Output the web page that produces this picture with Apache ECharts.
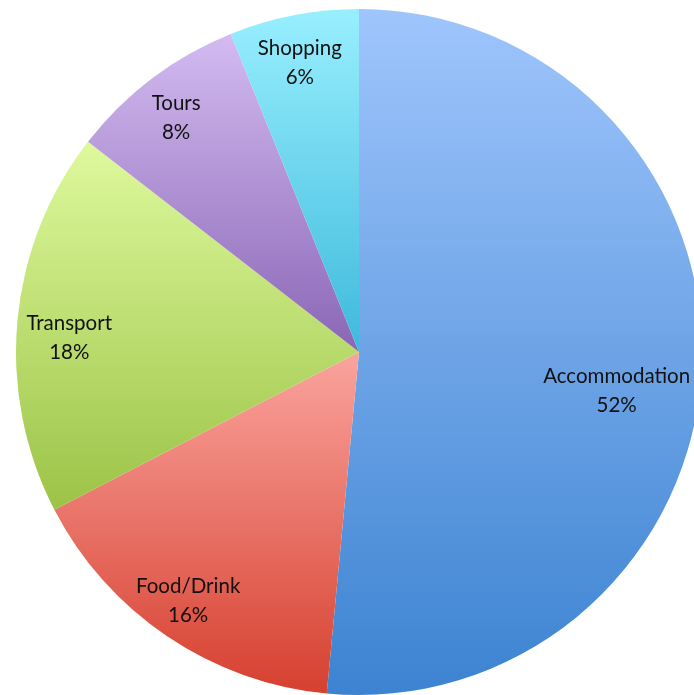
<!DOCTYPE html>
<html><head><meta charset="utf-8">
<script src="https://cdn.jsdelivr.net/npm/echarts@6/dist/echarts.min.js"></script>
<style>html,body{margin:0;padding:0;background:#fff}#c{width:694px;height:695px}</style>
</head><body><div id="c"></div>
<script>
const categories = ['Accommodation', 'Food/Drink', 'Transport', 'Tours', 'Shopping'];
const values = [51.5, 15.9, 18.1, 8.4, 6.1];
const topColors = ['#9fc5fc', '#faa49e', '#def99d', '#d3bbf1', '#98effe'];
const bottomColors = ['#3c83d1', '#d6402f', '#9cc347', '#8a66b5', '#3eb9dc'];
const labelOffsets = [[-42, 25], [-3, 0], [9, 13], [-2, 5], [-2, 5]];

const chart = echarts.init(document.getElementById('c'), null, {renderer: 'canvas'});
const R = 343;
const baseData = categories.map((n, i) => ({
  name: n, value: values[i],
  itemStyle: {color: new echarts.graphic.LinearGradient(0, 0, 0, 1, [
    {offset: 0, color: topColors[i]}, {offset: 1, color: bottomColors[i]}])}
}));
const labelData = categories.map((n, i) => ({
  name: n, value: values[i],
  label: {offset: labelOffsets[i]}
}));
chart.setOption({
  animation: false,
  series: [{
    type: 'pie', center: [359, 352], radius: [0, R], startAngle: 90, clockwise: true,
    label: {show: false}, labelLine: {show: false}, silent: true,
    itemStyle: {borderWidth: 0},
    data: baseData
  }, {
    type: 'pie', center: [359, 352], radius: [251, R], startAngle: 90, clockwise: true,
    silent: true, labelLine: {show: false},
    itemStyle: {color: 'rgba(0,0,0,0)', borderWidth: 0},
    label: {show: true, position: 'inside', formatter: p => p.name + '\n' + Math.round(p.percent) + '%',
      color: '#111', fontFamily: 'Lato', fontSize: 20.5, lineHeight: 29, align: 'center'},
    data: labelData
  }]
});
</script></body></html>
